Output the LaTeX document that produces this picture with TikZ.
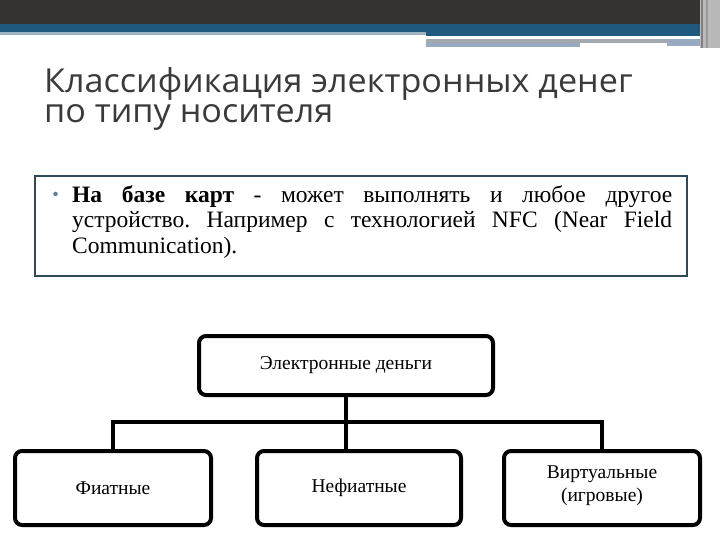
\documentclass[tikz,border=0pt]{standalone}
\usepackage{fontspec}
\setmainfont{Liberation Serif}
\newfontfamily\titlefont[FakeStretch=1.035]{Open Sans}
\usetikzlibrary{calc,positioning}
\definecolor{slatedark}{HTML}{343332}
\definecolor{slateblue}{HTML}{1F5A7E}
\definecolor{slatepale}{HTML}{9DB3C0}
\definecolor{slategray}{HTML}{A2AAB0}
\definecolor{slatemist}{HTML}{97AABF}
\definecolor{titlegray}{HTML}{3A3A3A}
\definecolor{frameteal}{HTML}{2E4A58}
\definecolor{dotblue}{HTML}{5A7FA0}
\frenchspacing

\begin{document}
\begin{tikzpicture}[x=1pt,y=-1pt,
  catbox/.style={draw,line width=4pt,rounded corners=7pt,fill=white,minimum height=74pt,inner sep=2pt,
    align=center,font=\fontsize{19.5}{23}\selectfont},
  titleline/.style={anchor=base west,inner sep=0pt,text=titlegray,font=\titlefont\fontsize{33}{33}\selectfont},
  link/.style={line width=4pt}]
\useasboundingbox (0,0) rectangle (720,540);
\fill[slatedark] (0,0) rectangle (700,24);
\fill[slateblue] (0,24) rectangle (700,32);
\fill[slatepale] (0,32) rectangle (426,35);
\fill[slateblue] (426,32) rectangle (700,36);
\fill[slategray] (426,39) rectangle (667,43);
\fill[slatemist] (667,39) rectangle (700,46);
\fill[slatemist] (426,43) rectangle (580,47);
\fill[gray!55] (700,0) rectangle (720,48);
\fill[gray] (701,0) rectangle (703,48);
\fill[gray!80] (706,0) rectangle (708,48);
\node[titleline] (title1) at (44,93) {Классификация электронных денег};
\node[titleline] (title2) at (44,123) {по типу носителя};
\draw[frameteal,line width=2pt] (35,176) rectangle (687,276);
\node[circle,fill=dotblue,inner sep=0pt,minimum size=4.5pt] (dot) at (55.5,194) {};
\node[anchor=north west,inner sep=0pt,text width=600pt,align=justify,font=\fontsize{23.5}{25.7}\selectfont] (note) at (72,185)
  {\textbf{На базе карт} - может выполнять и любое другое\linebreak устройство. Например с технологией NFC (Near Field\linebreak Communication).};
\node[catbox,minimum width=294pt,minimum height=59pt] (money) at (346,365.5) {Электронные деньги};
\node[catbox,minimum width=196pt] (fiat) at (113,488) {Фиатные};
\node[catbox,minimum width=204pt] (nonfiat) at (359,488) {Нефиатные};
\node[catbox,minimum width=196pt] (virtual) at (602,488) {Виртуальные\\(игровые)\\[-15pt]\mbox{}};
\coordinate (bus) at ($(money.south)+(0,25)$);
\draw[link] (money.south) -- (money.south |- nonfiat.north);
\draw[link] (fiat.north) |- (bus) -| (virtual.north);
\end{tikzpicture}
\end{document}
